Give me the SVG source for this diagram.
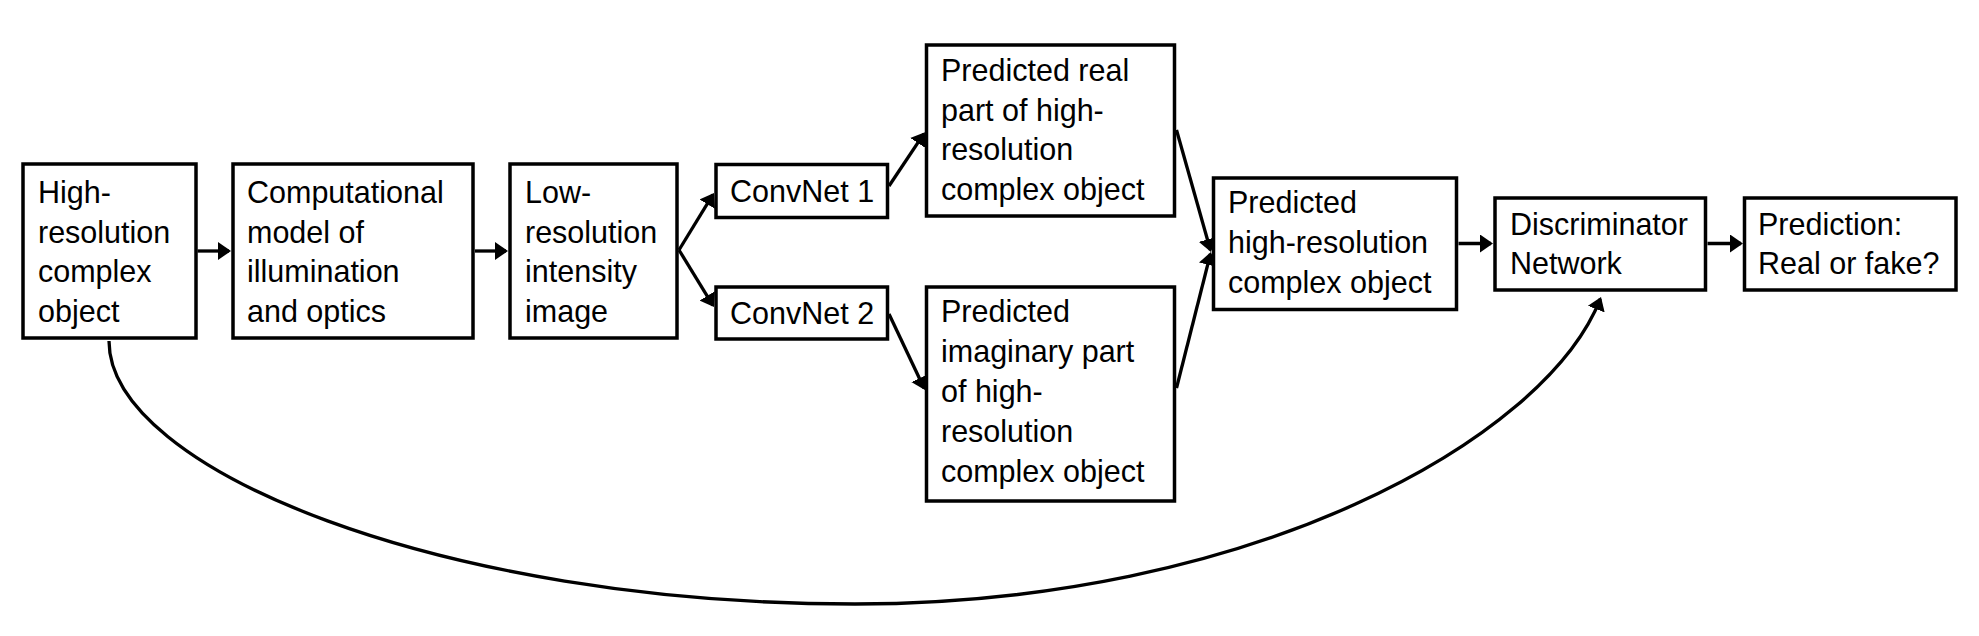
<svg xmlns="http://www.w3.org/2000/svg" width="1979" height="636" viewBox="0 0 1979 636">
<style>
.box{fill:#fff;stroke:#000;stroke-width:3.5}
.t{font-family:"Liberation Sans",Arial,sans-serif;font-size:30.5px;fill:#000}
.c{fill:none;stroke:#000;stroke-width:3.3}
</style>
<defs>
<marker id="ah" viewBox="0 0 13 18" markerWidth="13" markerHeight="18" refX="11" refY="9" orient="auto" markerUnits="userSpaceOnUse">
<path d="M0,0 L13,9 L0,18 z" fill="#000"/>
</marker>
</defs>
<rect width="1979" height="636" fill="#fff"/>
<g id="connectors">
<path class="c" d="M197.5,251 H229" marker-end="url(#ah)"/>
<path class="c" d="M475,251 H506" marker-end="url(#ah)"/>
<path class="c" d="M679,250 L712.9,194.7" marker-end="url(#ah)"/>
<path class="c" d="M679,250 L712.9,305.3" marker-end="url(#ah)"/>
<path class="c" d="M889,186 L923.8,133.8" marker-end="url(#ah)"/>
<path class="c" d="M889,314 L924.1,388.2" marker-end="url(#ah)"/>
<path class="c" d="M1176.5,130 L1210.4,250" marker-end="url(#ah)"/>
<path class="c" d="M1176.5,388 L1210.4,254" marker-end="url(#ah)"/>
<path class="c" d="M1458.5,243.5 H1491" marker-end="url(#ah)"/>
<path class="c" d="M1707.5,243.5 H1741" marker-end="url(#ah)"/>
<path class="c" d="M109,341 C109,470 443,604 855,604 C1250,604 1545,440 1600.3,298.9" marker-end="url(#ah)"/>
</g>
<g id="n1"><rect class="box" x="23" y="164" width="173" height="174"/>
<text class="t" x="38" y="203">High-</text><text class="t" x="38" y="242.5">resolution</text><text class="t" x="38" y="282">complex</text><text class="t" x="38" y="321.5">object</text></g>
<g id="n2"><rect class="box" x="233" y="164" width="240" height="174"/>
<text class="t" x="247" y="203">Computational</text><text class="t" x="247" y="242.5">model of</text><text class="t" x="247" y="282">illumination</text><text class="t" x="247" y="321.5">and optics</text></g>
<g id="n3"><rect class="box" x="510" y="164" width="167" height="174"/>
<text class="t" x="525" y="203">Low-</text><text class="t" x="525" y="242.5">resolution</text><text class="t" x="525" y="282">intensity</text><text class="t" x="525" y="321.5">image</text></g>
<g id="n4"><rect class="box" x="716" y="164.5" width="171.5" height="53"/>
<text class="t" x="730" y="202">ConvNet 1</text></g>
<g id="n5"><rect class="box" x="716" y="287" width="171.5" height="52"/>
<text class="t" x="730" y="323.5">ConvNet 2</text></g>
<g id="n6"><rect class="box" x="926.5" y="45" width="248" height="171"/>
<text class="t" x="941" y="81">Predicted real</text><text class="t" x="941" y="120.7">part of high-</text><text class="t" x="941" y="160.4">resolution</text><text class="t" x="941" y="200">complex object</text></g>
<g id="n7"><rect class="box" x="926.5" y="287" width="248" height="214"/>
<text class="t" x="941" y="322">Predicted</text><text class="t" x="941" y="362">imaginary part</text><text class="t" x="941" y="402">of high-</text><text class="t" x="941" y="442">resolution</text><text class="t" x="941" y="482">complex object</text></g>
<g id="n8"><rect class="box" x="1213.5" y="178" width="243" height="131.5"/>
<text class="t" x="1228" y="213">Predicted</text><text class="t" x="1228" y="253">high-resolution</text><text class="t" x="1228" y="293">complex object</text></g>
<g id="n9"><rect class="box" x="1495" y="198" width="210.5" height="92"/>
<text class="t" x="1510" y="235">Discriminator</text><text class="t" x="1510" y="274">Network</text></g>
<g id="n10"><rect class="box" x="1744.5" y="198" width="211.5" height="92"/>
<text class="t" x="1758" y="235">Prediction:</text><text class="t" x="1758" y="274">Real or fake?</text></g>
</svg>
